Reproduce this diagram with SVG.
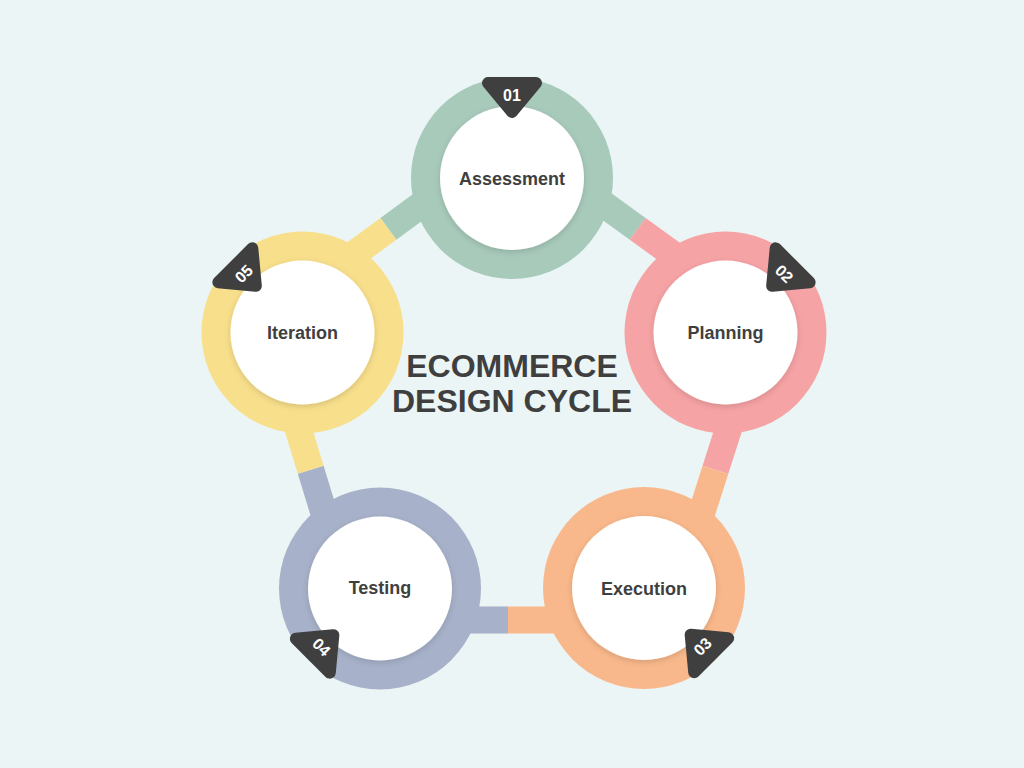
<svg xmlns="http://www.w3.org/2000/svg" width="1024" height="768" viewBox="0 0 1024 768">
<style>
.bar{fill:none;stroke-width:27;stroke-linejoin:miter}
.core{fill:#ffffff;filter:url(#sh)}
.lbl{font-family:"Liberation Sans",Arial,sans-serif;font-weight:bold;font-size:18px;fill:#3f3f3f;text-anchor:middle}
.title{font-family:"Liberation Sans",Arial,sans-serif;font-weight:bold;font-size:32px;fill:#3f3f3f;text-anchor:middle}
.tri{fill:#3f3f3f;stroke:#3f3f3f;stroke-width:12;stroke-linejoin:round}
.num{font-family:"Liberation Sans",Arial,sans-serif;font-weight:bold;font-size:16px;fill:#ffffff;text-anchor:middle}
</style>
<defs>
<filter id="sh" x="-20%" y="-20%" width="140%" height="140%">
<feDropShadow dx="0" dy="2" stdDeviation="3" flood-color="#000000" flood-opacity="0.15"/>
</filter>
<polygon id="badge" class="tri" points="-24,-95 24,-95 0,-66"/>
</defs>
<rect width="1024" height="768" fill="#EBF5F5"/>
<g id="connectors">
<polyline class="bar" stroke="#A8CABB" points="388.4,228.8 512,138 637.7,228.9"/>
<polyline class="bar" stroke="#F6A3A5" points="637.7,228.9 763.4,319.8 715.4,469.9"/>
<polyline class="bar" stroke="#F9B88B" points="715.4,469.9 667.3,620 508,620"/>
<polyline class="bar" stroke="#A7B2CA" points="508,620 356.7,620 310.7,469.8"/>
<polyline class="bar" stroke="#F8DF8B" points="310.7,469.8 264.7,319.6 388.4,228.8"/>
</g>
<g id="node1">
<circle cx="512" cy="178" r="101" fill="#A8CABB"/>
<circle class="core" cx="512" cy="178" r="72"/>
<text class="lbl" x="512" y="184.5">Assessment</text>
<g transform="translate(512,178) rotate(0)">
<use href="#badge"/>
<text class="num" x="0" y="-77.5">01</text>
</g>
</g>
<g id="node2">
<circle cx="725.5" cy="332.5" r="101" fill="#F6A3A5"/>
<circle class="core" cx="725.5" cy="332.5" r="72"/>
<text class="lbl" x="725.5" y="338.5">Planning</text>
<g transform="translate(725.5,332.5) rotate(45)">
<use href="#badge"/>
<text class="num" x="0" y="-77.5">02</text>
</g>
</g>
<g id="node3">
<circle cx="644" cy="588" r="101" fill="#F9B88B"/>
<circle class="core" cx="644" cy="588" r="72"/>
<text class="lbl" x="644" y="594.5">Execution</text>
<g transform="translate(644,588) rotate(135)">
<use href="#badge"/>
<text class="num" x="0" y="-77.5" transform="rotate(180 0 -83)">03</text>
</g>
</g>
<g id="node4">
<circle cx="380" cy="588.5" r="101" fill="#A7B2CA"/>
<circle class="core" cx="380" cy="588.5" r="72"/>
<text class="lbl" x="380" y="594">Testing</text>
<g transform="translate(380,588.5) rotate(225)">
<use href="#badge"/>
<text class="num" x="0" y="-77.5" transform="rotate(180 0 -83)">04</text>
</g>
</g>
<g id="node5">
<circle cx="302.5" cy="332.5" r="101" fill="#F8DF8B"/>
<circle class="core" cx="302.5" cy="332.5" r="72"/>
<text class="lbl" x="302.5" y="338.5">Iteration</text>
<g transform="translate(302.5,332.5) rotate(315)">
<use href="#badge"/>
<text class="num" x="0" y="-77.5">05</text>
</g>
</g>
<g id="title">
<text class="title" x="512" y="377">ECOMMERCE</text>
<text class="title" x="512" y="412">DESIGN CYCLE</text>
</g>
</svg>
